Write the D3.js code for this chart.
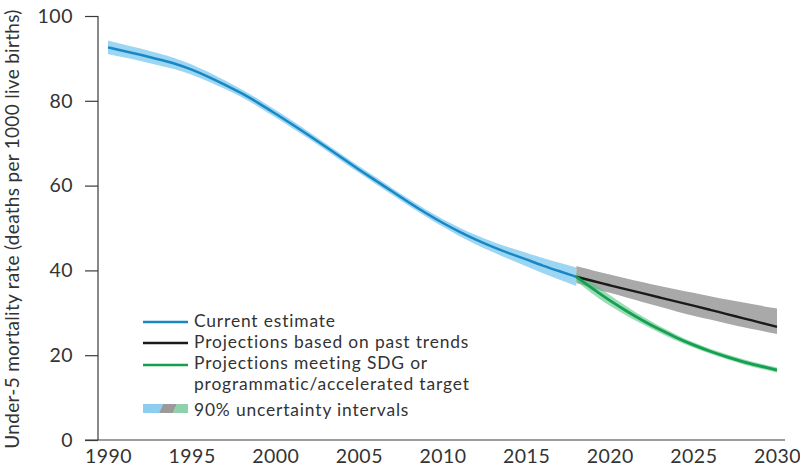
<!DOCTYPE html>
<html><head><meta charset="utf-8">
<script src="https://cdn.jsdelivr.net/npm/d3@7"></script>
<style>html,body{margin:0;padding:0;background:#fff;}svg{display:block;}</style>
</head><body><svg id="c" width="800" height="468"></svg>
<script>
const estYears = [1990,1991,1992,1993,1994,1995,1996,1997,1998,1999,2000,2001,2002,2003,2004,2005,2006,2007,2008,2009,2010,2011,2012,2013,2014,2015,2016,2017,2018];
const estValues = [92.6,91.7,90.8,89.8,88.8,87.4,85.7,83.8,81.8,79.5,77.0,74.5,71.9,69.2,66.5,63.8,61.2,58.6,56.0,53.5,51.2,49.1,47.2,45.5,44.0,42.6,41.1,39.8,38.5];
const estLower = [91.0,90.2,89.3,88.4,87.5,86.2,84.6,82.8,80.9,78.6,76.1,73.6,71.1,68.4,65.7,63.0,60.4,57.8,55.2,52.7,50.3,48.1,46.1,44.3,42.6,41.0,39.3,37.8,36.3];
const estUpper = [94.2,93.2,92.3,91.2,90.1,88.6,86.8,84.8,82.7,80.4,77.9,75.4,72.7,70.0,67.3,64.6,62.0,59.4,56.8,54.3,52.1,50.1,48.3,46.7,45.4,44.2,42.9,41.8,40.7];

const projYears = [2018,2019,2020,2021,2022,2023,2024,2025,2026,2027,2028,2029,2030];
const trendValues = [38.5,37.5,36.5,35.5,34.6,33.6,32.6,31.7,30.7,29.7,28.7,27.7,26.7];
const trendLower = [37.0,35.8,34.7,33.6,32.5,31.4,30.3,29.3,28.4,27.5,26.6,25.8,25.0];
const trendUpper = [41.0,40.0,39.0,38.1,37.2,36.3,35.5,34.7,33.9,33.1,32.4,31.7,31.0];
const sdgValues = [38.5,35.6,32.9,30.4,28.1,26.0,24.1,22.4,20.9,19.6,18.4,17.4,16.5];
const sdgLower = [37.5,34.3,31.6,29.3,27.2,25.2,23.4,21.8,20.3,19.0,17.8,16.8,15.9];
const sdgUpper = [39.5,37.0,34.2,31.5,29.0,26.8,24.8,23.0,21.5,20.2,19.0,18.0,17.1];

const xTicks = [1990,1995,2000,2005,2010,2015,2020,2025,2030];
const yTicks = [0,20,40,60,80,100];
const yTitle = "Under-5 mortality rate (deaths per 1000 live births)";
const legendItems = ["Current estimate","Projections based on past trends","Projections meeting SDG or","programmatic/accelerated target","90% uncertainty intervals"];

const FONT = "Lato, sans-serif";
const svg = d3.select("#c");
const x = d3.scaleLinear().domain([1990,2030]).range([108,777]);
const y = d3.scaleLinear().domain([0,100]).range([440,16]);

const zip = (xs, ys) => xs.map((d,i)=>({x:d, v:ys[i]}));
const band = (xs, lo, hi) => xs.map((d,i)=>({x:d, lo:lo[i], hi:hi[i]}));
const area = d3.area().x(d=>x(d.x)).y0(d=>y(d.lo)).y1(d=>y(d.hi)).curve(d3.curveBasis);
const line = d3.line().x(d=>x(d.x)).y(d=>y(d.v)).curve(d3.curveBasis);

// bands
svg.append("path").attr("d", area(band(estYears, estLower, estUpper))).attr("fill","#9dd6f2");
svg.append("path").attr("d", area(band(projYears, trendLower, trendUpper))).attr("fill","#a9a9a9");
svg.append("path").attr("d", area(band(projYears, sdgLower, sdgUpper))).attr("fill","#5cc48a").attr("opacity",0.6);

// lines
svg.append("path").attr("d", line(zip(projYears, trendValues))).attr("fill","none").attr("stroke","#1a1a1a").attr("stroke-width",2.4);
svg.append("path").attr("d", line(zip(projYears, sdgValues))).attr("fill","none").attr("stroke","#14a04e").attr("stroke-width",2.8);
svg.append("path").attr("d", line(zip(estYears, estValues))).attr("fill","none").attr("stroke","#1787c6").attr("stroke-width",2.5);

// axes
const yAxis = svg.append("g").attr("transform","translate(98,0)")
  .call(d3.axisLeft(y).tickValues(yTicks).tickSize(13).tickPadding(12));
const xAxis = svg.append("g").attr("transform","translate(0,440)")
  .call(d3.axisBottom(x).tickValues(xTicks).tickSize(0).tickPadding(9).tickFormat(d3.format("d")));
yAxis.select(".domain").attr("d","M0,16V440");
xAxis.select(".domain").attr("d","M85,0H785");
[yAxis, xAxis].forEach(g=>{
  g.selectAll(".domain, line").attr("stroke","#3a3a3a").attr("stroke-width",1.2);
  g.selectAll("text").attr("font-family",FONT).attr("font-size",19.5).attr("fill","#333")
    .attr("letter-spacing",0.5);
});
xAxis.selectAll("text").attr("dy","0.71em");

// y title
svg.append("text").attr("transform","translate(19,229) rotate(-90)")
  .attr("text-anchor","middle").attr("font-family",FONT).attr("font-size",19).attr("fill","#333")
  .attr("letter-spacing",0.3).text(yTitle);

// legend
const lg = svg.append("g");
const lineColors = ["#1787c6","#1a1a1a","#14a04e"];
const lineYs = [322,343,365];
lineColors.forEach((c,i)=>{
  lg.append("line").attr("x1",143).attr("x2",188).attr("y1",lineYs[i]).attr("y2",lineYs[i])
    .attr("stroke",c).attr("stroke-width",2.6);
});
const textYs = [327,348,369,390,416];
legendItems.forEach((t,i)=>{
  lg.append("text").attr("x",194).attr("y",textYs[i]).attr("font-family",FONT).attr("font-size",17.4)
    .attr("letter-spacing",0.85).attr("fill","#333").text(t);
});
// uncertainty swatch
const sy0 = 404, sy1 = 413;
lg.append("polygon").attr("points",`143,${sy1} 143,${sy0} 163,${sy0} 159,${sy1}`).attr("fill","#8ccdf0");
lg.append("polygon").attr("points",`159,${sy1} 163,${sy0} 177,${sy0} 173,${sy1}`).attr("fill","#9a9a9a");
lg.append("polygon").attr("points",`173,${sy1} 177,${sy0} 188,${sy0} 188,${sy1}`).attr("fill","#8fd1ac");
</script></body></html>
